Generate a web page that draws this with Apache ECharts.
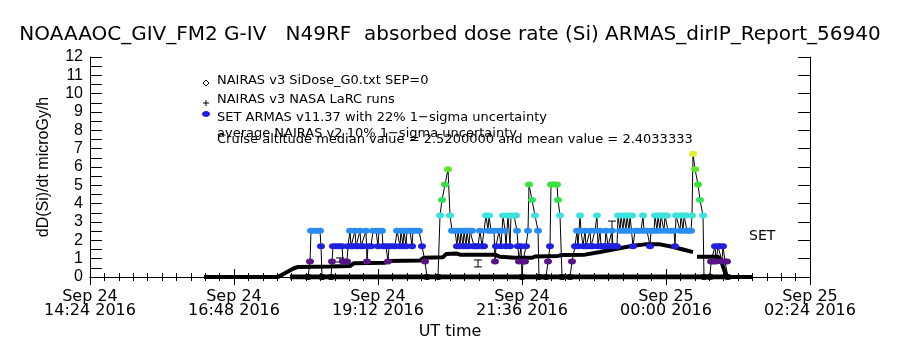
<!DOCTYPE html>
<html style="height: 100%">
<head>
<meta charset="utf-8">
<title>ARMAS dose rate</title>
<script src="https://cdn.jsdelivr.net/npm/echarts@6/dist/echarts.min.js"></script>
</head>
<body style="height: 100%; margin: 0; background: #fff">
<div id="container" style="width: 900px; height: 350px"></div>
<script type="text/javascript">

// x values are minutes after 00:00 UT, Sep 24 2016
var xMin = 864;   // Sep 24 14:24
var xMax = 1584;  // Sep 25 02:24
var xStep = 144;

// NAIRAS v3 SiDose (thick black curve)
var nairasPoints = [
    [978, 0], [1052, 0], [1057, 0.15], [1062, 0.3], [1067, 0.45], [1072, 0.55],
    [1104, 0.57], [1124, 0.6], [1128, 0.75], [1159, 0.78], [1162, 0.87], [1194, 0.9],
    [1198, 1.05], [1217, 1.08], [1220, 1.25], [1231, 1.28], [1234, 1.22], [1269, 1.22],
    [1274, 1.1], [1289, 1.05], [1306, 1.05], [1309, 1.12], [1332, 1.15], [1336, 1.2],
    [1359, 1.22], [1374, 1.36], [1392, 1.55], [1407, 1.7], [1419, 1.78], [1434, 1.78],
    [1446, 1.65], [1459, 1.47], [1467, 1.36], [1469, null],
    [1471, 1.1], [1492, 1.1], [1495, 0.9], [1498, 0.4], [1501, 0], [1526, 0]
];

// zero level along the ground track
var zeroPoints = [[1064, 0], [1501, 0]];

// NAIRAS LaRC runs: [time, low, high]
var larcBars = [
    [1114, 0.82, 1.04],
    [1252, 0.55, 0.93],
    [1386, 1.75, 3.05]
];

// SET ARMAS v11.37 measurements
var armasPoints = [
    [1082, 0], [1084, 0.84], [1085, 2.52], [1088, 2.52], [1091, 2.52], [1094, 2.52], [1095, 1.68], [1096, 0],
    [1105, 0], [1106, 0.84], [1107, 1.68], [1110, 1.68], [1113, 1.68], [1116, 1.68], [1117, 0.84], [1119, 0.84],
    [1121, 0.84], [1122, 1.68], [1124, 2.52], [1125, 1.68], [1127, 1.68], [1129, 2.52], [1130, 1.68], [1132, 1.68],
    [1134, 2.52], [1135, 1.68], [1137, 1.68], [1140, 2.52], [1141, 0.84], [1142, 1.68], [1145, 1.68], [1147, 2.52],
    [1150, 2.52], [1152, 1.68], [1153, 2.52], [1156, 2.52], [1157, 1.68], [1160, 1.68], [1162, 0.84], [1163, 1.68],
    [1166, 1.68], [1169, 1.68], [1171, 2.52], [1174, 1.68], [1175, 2.52], [1177, 1.68], [1178, 2.52], [1180, 1.68],
    [1181, 2.52], [1184, 2.52], [1186, 1.68], [1187, 2.52], [1190, 2.52], [1193, 2.52], [1196, 1.68], [1199, 0.84],
    [1201, 0], [1212, 0], [1214, 3.36], [1216, 4.2], [1219, 5.04], [1222, 5.88], [1224, 3.36], [1226, 2.52],
    [1229, 2.52], [1231, 1.68], [1232, 2.52], [1234, 1.68], [1235, 2.52], [1237, 1.68], [1238, 2.52], [1240, 1.68],
    [1241, 2.52], [1243, 1.68], [1244, 2.52], [1246, 2.52], [1248, 1.68], [1250, 1.68], [1252, 1.68], [1254, 2.52],
    [1256, 1.68], [1258, 1.68], [1260, 3.36], [1262, 2.52], [1263, 3.36], [1265, 2.52], [1268, 2.52], [1269, 0.84],
    [1270, 1.68], [1273, 2.52], [1275, 1.68], [1277, 3.36], [1279, 2.52], [1280, 1.68], [1282, 3.36], [1284, 1.68],
    [1285, 3.36], [1288, 3.36], [1290, 3.36], [1291, 2.52], [1292, 1.68], [1293, 0.84], [1295, 1.68], [1296, 0],
    [1297, 0.84], [1299, 0.84], [1300, 1.68], [1302, 2.52], [1303, 5.04], [1306, 4.2], [1309, 3.36], [1312, 2.52],
    [1313, 0], [1320, 0], [1322, 0.84], [1324, 1.68], [1325, 5.04], [1328, 5.04], [1331, 5.04], [1332, 4.2],
    [1334, 3.36], [1336, 0], [1344, 0], [1346, 0.84], [1349, 1.68], [1351, 2.52], [1352, 1.68], [1354, 3.36],
    [1355, 2.52], [1357, 1.68], [1359, 2.52], [1360, 1.68], [1362, 1.68], [1364, 2.52], [1365, 1.68], [1367, 1.68],
    [1369, 2.52], [1371, 3.36], [1372, 1.68], [1374, 2.52], [1375, 1.68], [1377, 1.68], [1379, 1.68], [1380, 2.52],
    [1382, 1.68], [1384, 1.68], [1386, 2.52], [1387, 1.68], [1389, 1.68], [1391, 1.68], [1392, 3.36], [1394, 2.52],
    [1395, 3.36], [1397, 2.52], [1398, 3.36], [1400, 2.52], [1401, 3.36], [1403, 2.52], [1404, 3.36], [1406, 3.36],
    [1407, 1.68], [1409, 2.52], [1412, 2.52], [1415, 2.52], [1417, 3.36], [1418, 2.52], [1421, 2.52], [1424, 1.68],
    [1425, 2.52], [1428, 2.52], [1429, 3.36], [1431, 2.52], [1432, 3.36], [1434, 2.52], [1435, 3.36], [1437, 3.36],
    [1438, 2.52], [1439, 3.36], [1441, 3.36], [1442, 2.52], [1445, 2.52], [1448, 2.52], [1449, 1.68], [1450, 3.36],
    [1452, 3.36], [1454, 2.52], [1455, 3.36], [1457, 2.52], [1458, 3.36], [1460, 3.36], [1461, 2.52], [1463, 2.52],
    [1465, 2.52], [1466, 3.36], [1467, 6.72], [1469, 5.88], [1472, 5.04], [1474, 4.2], [1477, 3.36], [1478, 0],
    [1484, 0], [1485, 0.84], [1487, 0.84], [1489, 1.68], [1490, 0.84], [1492, 1.68], [1494, 1.68], [1496, 0.84],
    [1497, 1.68], [1499, 0.84], [1501, 0.84], [1502, 0]
];

// colour steps of the ARMAS dots
var doseLevels = [0.5, 1.2, 2.1, 2.9, 3.8, 4.6, 5.5, 6.3];
var doseColors = ['#000000', '#561487', '#2020e0', '#2a8cf5', '#3ce2dc', '#34e05c', '#38e23c', '#5ee628', '#dcee2c'];

function doseColor(v) {
    var i = 0;
    while (i < doseLevels.length && v > doseLevels[i]) i++;
    return doseColors[i];
}

function pad(n) { return (n < 10 ? '0' : '') + n; }

function timeLabel(v) {
    var day = 24 + Math.floor(v / 1440);
    var m = v % 1440;
    return 'Sep ' + day + '\n' + pad(Math.floor(m / 60)) + ':' + pad(m % 60) + ' 2016';
}

var dom = document.getElementById('container');
var myChart = echarts.init(dom, null, {renderer: 'canvas'});

var black = '#000';
var font = 'DejaVu Sans';
var legendFont = '13px "DejaVu Sans"';

var option = {
    animation: false,
    backgroundColor: '#fff',
    title: {
        text: 'NOAAAOC_GIV_FM2 G-IV   N49RF  absorbed dose rate (Si) ARMAS_dirIP_Report_56940',
        left: 'center',
        top: 20,
        textStyle: {fontFamily: font, fontSize: 20, fontWeight: 'normal', color: black}
    },
    grid: {left: 90, right: 90, top: 57, bottom: 73},
    xAxis: [{
        type: 'value',
        min: xMin, max: xMax, interval: xStep,
        position: 'bottom',
        axisLine: {lineStyle: {color: black, width: 1}},
        axisTick: {inside: true, length: 8, lineStyle: {color: black}},
        minorTick: {show: true, splitNumber: 10, length: 4, lineStyle: {color: black}},
        splitLine: {show: false},
        axisLabel: {
            formatter: timeLabel, color: black, fontFamily: font, fontSize: 16,
            lineHeight: 14, margin: 13
        },
        name: 'UT time',
        nameLocation: 'middle',
        nameGap: 47,
        nameTextStyle: {color: black, fontFamily: font, fontSize: 16}
    }, {
        type: 'value',
        min: xMin, max: xMax, interval: xStep,
        position: 'top',
        axisLine: {lineStyle: {color: black, width: 1}},
        axisTick: {inside: true, length: 8, lineStyle: {color: black}},
        minorTick: {show: true, splitNumber: 10, length: 4, lineStyle: {color: black}},
        splitLine: {show: false},
        axisLabel: {show: false}
    }],
    yAxis: [{
        type: 'value',
        min: 0, max: 12, interval: 1,
        position: 'left',
        axisLine: {show: true, lineStyle: {color: black, width: 1}},
        axisTick: {show: true, inside: true, length: 12, lineStyle: {color: black}},
        minorTick: {show: true, splitNumber: 2, length: 12, lineStyle: {color: black}},
        splitLine: {show: false},
        axisLabel: {color: black, fontFamily: 'Liberation Sans', fontSize: 16, margin: 7},
        name: 'dD(Si)/dt microGy/h',
        nameLocation: 'middle',
        nameGap: 38,
        nameTextStyle: {color: black, fontFamily: 'Liberation Sans', fontSize: 16}
    }, {
        type: 'value',
        min: 0, max: 12, interval: 1,
        position: 'right',
        axisLine: {show: true, lineStyle: {color: black, width: 1}},
        axisTick: {show: true, inside: true, length: 12, lineStyle: {color: black}},
        splitLine: {show: false},
        axisLabel: {show: false}
    }],
    series: [{
        name: 'zero',
        type: 'line',
        data: zeroPoints,
        symbol: 'none',
        lineStyle: {color: black, width: 5}
    }, {
        name: 'NAIRAS v3 SiDose_G0.txt SEP=0',
        type: 'line',
        data: nairasPoints,
        symbol: 'none',
        lineStyle: {color: black, width: 4}
    }, {
        name: 'SET ARMAS v11.37',
        type: 'line',
        data: armasPoints.map(function (p) {
            return {value: p, itemStyle: {color: doseColor(p[1])}};
        }),
        symbol: 'circle',
        symbolSize: [8, 6],
        showAllSymbol: true,
        lineStyle: {color: black, width: 1}
    }, {
        name: 'NAIRAS v3 NASA LaRC runs',
        type: 'custom',
        data: larcBars,
        encode: {x: 0, y: [1, 2]},
        renderItem: function (params, api) {
            var lo = api.coord([api.value(0), api.value(1)]);
            var hi = api.coord([api.value(0), api.value(2)]);
            var st = {stroke: black, lineWidth: 1};
            return {
                type: 'group',
                children: [
                    {type: 'line', shape: {x1: lo[0], y1: lo[1], x2: hi[0], y2: hi[1]}, style: st},
                    {type: 'line', shape: {x1: lo[0] - 4, y1: lo[1], x2: lo[0] + 4, y2: lo[1]}, style: st},
                    {type: 'line', shape: {x1: hi[0] - 4, y1: hi[1], x2: hi[0] + 4, y2: hi[1]}, style: st}
                ]
            };
        }
    }],
    graphic: [
        {type: 'polygon', shape: {points: [[206, 80], [209, 83], [206, 86], [203, 83]]},
            style: {fill: '#fff', stroke: black, lineWidth: 1}},
        {type: 'text', left: 217, top: 74, style: {text: 'NAIRAS v3 SiDose_G0.txt SEP=0', font: legendFont, fill: black}},
        {type: 'line', shape: {x1: 203, y1: 103, x2: 209, y2: 103}, style: {stroke: black, lineWidth: 1}},
        {type: 'line', shape: {x1: 206, y1: 100, x2: 206, y2: 106}, style: {stroke: black, lineWidth: 1}},
        {type: 'text', left: 217, top: 93, style: {text: 'NAIRAS v3 NASA LaRC runs', font: legendFont, fill: black}},
        {type: 'ellipse', shape: {cx: 206, cy: 114, rx: 4, ry: 3}, style: {fill: '#2020e0'}},
        {type: 'text', left: 217, top: 111, style: {text: 'SET ARMAS v11.37 with 22% 1\u2212sigma uncertainty', font: legendFont, fill: black}},
        {type: 'text', left: 217, top: 127, style: {text: 'average NAIRAS v2 10% 1\u2212sigma uncertainty', font: legendFont, fill: black}},
        {type: 'text', left: 217, top: 133, style: {text: 'Cruise altitude median value = 2.5200000 and mean value = 2.4033333', font: legendFont, fill: black}},
        {type: 'text', left: 749, top: 229, style: {text: 'SET', font: '14px "DejaVu Sans"', fill: black}}
    ]
};

myChart.setOption(option);

</script>
</body>
</html>
